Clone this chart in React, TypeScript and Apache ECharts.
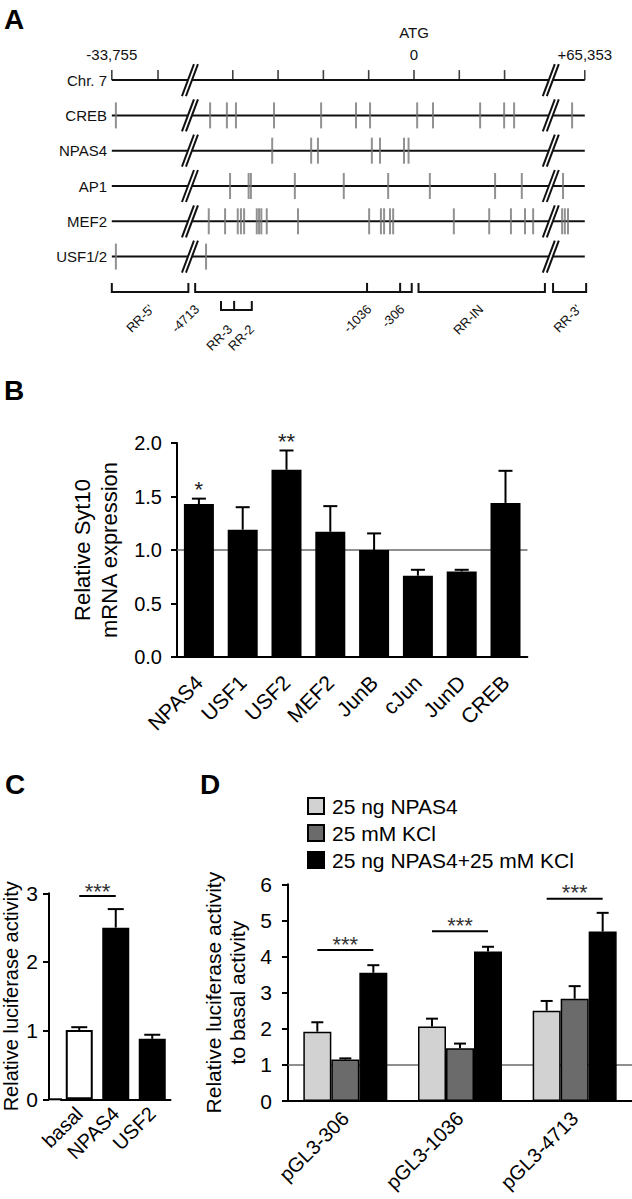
import React, { useEffect, useRef } from 'react';
import * as echarts from 'echarts';

const FONT = "'Liberation Sans', Arial, Helvetica, sans-serif";

// ---------------- Panel A (positions in kb relative to ATG; both ends compressed by axis breaks)
const rowNames = ['Chr. 7', 'CREB', 'NPAS4', 'AP1', 'MEF2', 'USF1/2', ''];
const chrTicks = [-6.67, -5.65, -4, -3, -2, -1, 0, 1, 2, 3.77];
const crebSites = [-6.58, -4.5, -4.13, -3.93, -3.09, -2.05, -1.28, -0.97, 0.07, 0.42, 1.46, 1.99, 2.21, 3.49];
const npas4Sites = [-3.13, -2.27, -2.12, -0.93, -0.75, -0.22, -0.12];
const ap1Sites = [-4.06, -3.65, -3.6, -2.63, -1.55, -0.57, 0.35, 1.79, 2.38, 3.29];
const mef2Sites = [-4.53, -4.17, -3.89, -3.82, -3.75, -3.47, -3.42, -3.37, -3.25, -2.56, -0.99, -0.73, -0.66, -0.53, -0.46, 0.88, 1.66, 2.14, 2.45, 2.63, 3.27, 3.33, 3.4];
const usfSites = [-6.58, -4.59];
const lineStart = -6.67;
const lineEnd = 3.77;
const breakAt = [-4.945, 3.02];
const coordLabels = ['-33,755', '0', '+65,353', 'ATG'];
const coordLabelX = [-6.67, 0, 3.77, 0];
const coordLabelDy = [-26, -26, -26, -48];
const bracketStart = [-6.67, -4.83, 0.1, 3.07, -4.26];
const bracketEnd = [-4.98, -0.05, 2.89, 3.8, -3.58];
const bracketLevel = [0, 0, 0, 0, 1];
const bracketInner = [[], [-1.036, -0.306], [], [], [-3.97]];
const regionLabels = ["RR-5'", '-4713', 'RR-3', 'RR-2', '-1036', '-306', 'RR-IN', "RR-3'"];
const regionLabelX = [-5.79, -4.79, -4.06, -3.58, -0.99, -0.26, 1.48, 3.64];
const regionLabelLevel = [0, 0, 1, 1, 0, 0, 0, 0];

// ---------------- Panel B
const bCats = ['NPAS4', 'USF1', 'USF2', 'MEF2', 'JunB', 'cJun', 'JunD', 'CREB'];
const bMean = [1.43, 1.19, 1.75, 1.17, 1.0, 0.76, 0.8, 1.44];
const bSem = [0.05, 0.21, 0.18, 0.24, 0.155, 0.055, 0.015, 0.3];
const bStarCat = [0, 2];
const bStars = ['*', '**'];

// ---------------- Panel C
const cCats = ['basal', 'NPAS4', 'USF2'];
const cMean = [1.01, 2.5, 0.88];
const cSem = [0.04, 0.27, 0.06];
const cSigFrom = [0];
const cSigTo = [1];
const cSigLevel = [2.96];

// ---------------- Panel D
const dCats = ['pGL3-306', 'pGL3-1036', 'pGL3-4713'];
const dNames = ['25 ng NPAS4', '25 mM KCl', '25 ng NPAS4+25 mM KCl'];
const dNpas4 = [1.92, 2.06, 2.5];
const dNpas4Sem = [0.26, 0.22, 0.27];
const dKcl = [1.15, 1.46, 2.83];
const dKclSem = [0.03, 0.13, 0.35];
const dBoth = [3.55, 4.14, 4.69];
const dBothSem = [0.21, 0.13, 0.52];
const dSigLevel = [4.18, 4.7, 5.6];

const D_BAR = 28;

function txtStyle(text: string, fontSize: number, align = 'center', vAlign = 'middle', color = '#000', weight = 'normal') {
  return {
    text, fontSize, fontFamily: FONT, fontWeight: weight, fill: color,
    align, verticalAlign: vAlign, textAlign: align, textVerticalAlign: vAlign,
  };
}

function errorBars(ai: number, means: number[], sems: number[], offset: number, cap: number) {
  return {
    type: 'custom', xAxisIndex: ai, yAxisIndex: ai, z: 4, silent: true,
    data: means.map((m, i) => [i, m, m + sems[i]]),
    renderItem: (_p: any, api: any) => {
      const base = api.coord([api.value(0), api.value(1)]);
      const top = api.coord([api.value(0), api.value(2)]);
      const x = base[0] + offset;
      const s = { stroke: '#000', lineWidth: 2 };
      return {
        type: 'group', children: [
          { type: 'line', shape: { x1: x, y1: base[1], x2: x, y2: top[1] }, style: s },
          { type: 'line', shape: { x1: x - cap, y1: top[1], x2: x + cap, y2: top[1] }, style: s },
        ],
      };
    },
  };
}

function refLine(ai: number, level: number) {
  return {
    type: 'custom', xAxisIndex: ai, yAxisIndex: ai, z: 1, silent: true,
    data: [[0, level]],
    renderItem: (p: any, api: any) => {
      const y = api.coord([0, api.value(1)])[1];
      const cs = p.coordSys;
      return { type: 'line', shape: { x1: cs.x, y1: y, x2: cs.x + cs.width, y2: y }, style: { stroke: '#6a6a6a', lineWidth: 1.5 } };
    },
  };
}

function sites(values: number[], row: number) {
  return values.map((v) => [v, row]);
}

const App: React.FC = () => {
  const ref = useRef<HTMLDivElement>(null);
  useEffect(() => {
    if (!ref.current) return;
    const chart = echarts.init(ref.current, undefined, { renderer: 'svg' });
    const allSites = [
      ...sites(crebSites, 1), ...sites(npas4Sites, 2), ...sites(ap1Sites, 3),
      ...sites(mef2Sites, 4), ...sites(usfSites, 5),
    ];
    const axisLineStyle = { show: true, lineStyle: { color: '#000', width: 2 } };
    const yTick = { show: true, length: 6, lineStyle: { color: '#000', width: 2 } };
    const option: any = {
      animation: false,
      backgroundColor: '#fff',
      textStyle: { fontFamily: FONT, color: '#000' },
      grid: [
        { left: 110, top: 62.45, width: 485.2, height: 247.1 },
        { left: 177, top: 443, width: 350.4, height: 214 },
        { left: 61, top: 893.3, width: 109.5, height: 206 },
        { left: 288, top: 884.3, width: 344, height: 216.7 },
      ],
      xAxis: [
        { gridIndex: 0, type: 'value', min: -6.71, max: 4, show: false },
        {
          gridIndex: 1, type: 'category', data: bCats, axisLine: axisLineStyle, axisTick: { show: false },
          axisLabel: { rotate: 45, fontSize: 21, color: '#000', margin: 22, interval: 0, fontFamily: FONT },
        },
        {
          gridIndex: 2, type: 'category', data: cCats, axisLine: axisLineStyle, axisTick: { show: false },
          axisLabel: { rotate: 45, fontSize: 20, color: '#000', margin: 11, interval: 0, fontFamily: FONT },
        },
        {
          gridIndex: 3, type: 'category', data: dCats, axisLine: axisLineStyle, axisTick: { show: false },
          axisLabel: { rotate: 45, fontSize: 20, color: '#000', margin: 14, interval: 0, fontFamily: FONT },
        },
      ],
      yAxis: [
        {
          gridIndex: 0, type: 'category', data: rowNames, inverse: true,
          axisLine: { show: false }, axisTick: { show: false }, splitLine: { show: false },
          axisLabel: { fontSize: 15, color: '#111', margin: 3, fontFamily: FONT },
        },
        {
          gridIndex: 1, type: 'value', min: 0, max: 2, interval: 0.5,
          axisLine: axisLineStyle, axisTick: yTick, splitLine: { show: false },
          axisLabel: { fontSize: 20, color: '#000', margin: 15, fontFamily: FONT, formatter: (v: number) => v.toFixed(1) },
          name: 'Relative Syt10\nmRNA expression', nameLocation: 'middle', nameRotate: 90, nameGap: 51,
          nameTextStyle: { fontSize: 22, lineHeight: 27, color: '#000', fontFamily: FONT },
        },
        {
          gridIndex: 2, type: 'value', min: 0, max: 3, interval: 1, offset: 12,
          axisLine: axisLineStyle, axisTick: yTick, splitLine: { show: false },
          axisLabel: { fontSize: 21, color: '#000', margin: 11, fontFamily: FONT },
          name: 'Relative luciferase activity', nameLocation: 'middle', nameRotate: 90, nameGap: 28,
          nameTextStyle: { fontSize: 20, color: '#000', fontFamily: FONT },
        },
        {
          gridIndex: 3, type: 'value', min: 0, max: 6, interval: 1,
          axisLine: axisLineStyle, axisTick: yTick, splitLine: { show: false },
          axisLabel: { fontSize: 21, color: '#000', margin: 16, fontFamily: FONT },
          name: 'Relative luciferase activity\nto basal activity', nameLocation: 'middle', nameRotate: 90, nameGap: 39,
          nameTextStyle: { fontSize: 21, lineHeight: 24, color: '#000', fontFamily: FONT },
        },
      ],
      legend: {
        data: dNames, orient: 'vertical', left: 302, top: 790, itemWidth: 16, itemHeight: 16, itemGap: 5,
        icon: 'rect', selectedMode: false,
        textStyle: { fontSize: 21, color: '#000', fontFamily: FONT, lineHeight: 22, padding: [0, 0, 0, 3] },
      },
      graphic: [
        { type: 'text', x: 4, y: 19, style: txtStyle('A', 28, 'left', 'middle', '#000', 'bold') },
        { type: 'text', x: 4, y: 390, style: txtStyle('B', 28, 'left', 'middle', '#000', 'bold') },
        { type: 'text', x: 5, y: 784, style: txtStyle('C', 28, 'left', 'middle', '#000', 'bold') },
        { type: 'text', x: 200, y: 784, style: txtStyle('D', 28, 'left', 'middle', '#000', 'bold') },
        { type: 'line', shape: { x1: 49, y1: 1099.3, x2: 62, y2: 1099.3 }, style: { stroke: '#000', lineWidth: 2 } },
      ],
      series: [
        // ---- Panel A
        {
          type: 'custom', xAxisIndex: 0, yAxisIndex: 0, z: 2, silent: true,
          data: rowNames.slice(0, 6).map((_, i) => [lineStart, i]),
          renderItem: (_p: any, api: any) => {
            const row = api.value(1);
            const p0 = api.coord([lineStart, row]);
            const p1 = api.coord([lineEnd, row]);
            const st = { stroke: '#111', lineWidth: 2 };
            const children: any[] = [{ type: 'line', shape: { x1: p0[0], y1: p0[1], x2: p1[0], y2: p1[1] }, style: st }];
            breakAt.forEach((b) => {
              const c = api.coord([b, row]);
              const cx = c[0], cy = c[1];
              children.push({ type: 'polygon', shape: { points: [[cx - 8, cy + 16], [cx + 4, cy - 16], [cx + 8, cy - 16], [cx - 4, cy + 16]] }, style: { fill: '#fff' } });
              children.push({ type: 'line', shape: { x1: cx - 8, y1: cy + 16, x2: cx + 4, y2: cy - 16 }, style: st });
              children.push({ type: 'line', shape: { x1: cx - 4, y1: cy + 16, x2: cx + 8, y2: cy - 16 }, style: st });
            });
            return { type: 'group', children };
          },
        },
        {
          type: 'scatter', xAxisIndex: 0, yAxisIndex: 0, z: 3, silent: true,
          symbol: 'rect', symbolSize: [1.6, 10], symbolOffset: [0, -5],
          itemStyle: { color: '#111' },
          data: chrTicks.map((v) => [v, 0]),
        },
        {
          type: 'scatter', xAxisIndex: 0, yAxisIndex: 0, z: 3, silent: true,
          symbol: 'rect', symbolSize: [2, 26],
          itemStyle: { color: '#767676' },
          data: allSites,
        },
        {
          type: 'custom', xAxisIndex: 0, yAxisIndex: 0, z: 3, silent: true,
          data: bracketStart.map((s) => [s, 6]),
          renderItem: (p: any, api: any) => {
            const i = p.dataIndex;
            const a = api.coord([bracketStart[i], 6]);
            const b = api.coord([bracketEnd[i], 6]);
            const bottom = a[1] + 18 * bracketLevel[i];
            const top = bottom - 9;
            const st = { stroke: '#111', lineWidth: 2, fill: null };
            const children: any[] = [{
              type: 'polyline', shape: { points: [[a[0], top], [a[0], bottom], [b[0], bottom], [b[0], top]] }, style: st,
            }];
            bracketInner[i].forEach((t) => {
              const c = api.coord([t, 6]);
              children.push({ type: 'line', shape: { x1: c[0], y1: bottom, x2: c[0], y2: top }, style: st });
            });
            return { type: 'group', children };
          },
        },
        {
          type: 'custom', xAxisIndex: 0, yAxisIndex: 0, z: 3, silent: true,
          data: regionLabelX.map((x) => [x, 6]),
          renderItem: (p: any, api: any) => {
            const i = p.dataIndex;
            const c = api.coord([regionLabelX[i], 6]);
            return {
              type: 'text', x: c[0], y: c[1] + (regionLabelLevel[i] ? 35 : 15), rotation: Math.PI / 4,
              style: txtStyle(regionLabels[i], 13, 'right', 'middle', '#111'),
            };
          },
        },
        {
          type: 'custom', xAxisIndex: 0, yAxisIndex: 0, z: 3, silent: true,
          data: coordLabelX.map((x) => [x, 0]),
          renderItem: (p: any, api: any) => {
            const i = p.dataIndex;
            const c = api.coord([coordLabelX[i], 0]);
            return { type: 'text', x: c[0], y: c[1] + coordLabelDy[i], style: txtStyle(coordLabels[i], 15, 'center', 'middle', '#111') };
          },
        },
        // ---- Panel B
        refLine(1, 1),
        {
          type: 'bar', xAxisIndex: 1, yAxisIndex: 1, z: 2, barWidth: 30, silent: true,
          itemStyle: { color: '#000' }, data: bMean,
        },
        errorBars(1, bMean, bSem, 0, 7),
        {
          type: 'custom', xAxisIndex: 1, yAxisIndex: 1, z: 5, silent: true,
          data: bStarCat.map((c) => [c, bMean[c] + bSem[c]]),
          renderItem: (p: any, api: any) => {
            const c = api.coord([api.value(0), api.value(1)]);
            return { type: 'text', x: c[0], y: c[1] - 9, style: txtStyle(bStars[p.dataIndex], 22, 'center', 'middle', '#222') };
          },
        },
        // ---- Panel C
        {
          type: 'bar', xAxisIndex: 2, yAxisIndex: 2, z: 2, barWidth: 27, silent: true,
          data: cMean.map((v, i) => ({
            value: v,
            itemStyle: i === 0 ? { color: '#fff', borderColor: '#000', borderWidth: 2 } : { color: '#000' },
          })),
        },
        errorBars(2, cMean, cSem, 0, 8),
        {
          type: 'custom', xAxisIndex: 2, yAxisIndex: 2, z: 5, silent: true,
          data: cSigFrom.map((f, i) => [f, cSigLevel[i]]),
          renderItem: (p: any, api: any) => {
            const i = p.dataIndex;
            const a = api.coord([cSigFrom[i], cSigLevel[i]]);
            const b = api.coord([cSigTo[i], cSigLevel[i]]);
            return {
              type: 'group', children: [
                { type: 'line', shape: { x1: a[0], y1: a[1], x2: b[0], y2: b[1] }, style: { stroke: '#000', lineWidth: 2 } },
                { type: 'text', x: (a[0] + b[0]) / 2, y: a[1] - 5, style: txtStyle('***', 22, 'center', 'middle', '#333') },
              ],
            };
          },
        },
        // ---- Panel D
        refLine(3, 1),
        {
          name: dNames[0], type: 'bar', xAxisIndex: 3, yAxisIndex: 3, z: 2, barWidth: D_BAR, barGap: '0%', silent: true,
          itemStyle: { color: '#d2d2d2', borderColor: '#000', borderWidth: 1.5 }, data: dNpas4,
        },
        {
          name: dNames[1], type: 'bar', xAxisIndex: 3, yAxisIndex: 3, z: 2, barWidth: D_BAR, barGap: '0%', silent: true,
          itemStyle: { color: '#6b6b6b', borderColor: '#000', borderWidth: 1.5 }, data: dKcl,
        },
        {
          name: dNames[2], type: 'bar', xAxisIndex: 3, yAxisIndex: 3, z: 2, barWidth: D_BAR, barGap: '0%', silent: true,
          itemStyle: { color: '#000', borderColor: '#000', borderWidth: 1.5 }, data: dBoth,
        },
        errorBars(3, dNpas4, dNpas4Sem, -D_BAR, 6),
        errorBars(3, dKcl, dKclSem, 0, 6),
        errorBars(3, dBoth, dBothSem, D_BAR, 6),
        {
          type: 'custom', xAxisIndex: 3, yAxisIndex: 3, z: 5, silent: true,
          data: dSigLevel.map((l, i) => [i, l]),
          renderItem: (_p: any, api: any) => {
            const c = api.coord([api.value(0), api.value(1)]);
            return {
              type: 'group', children: [
                { type: 'line', shape: { x1: c[0] - D_BAR, y1: c[1], x2: c[0] + D_BAR, y2: c[1] }, style: { stroke: '#000', lineWidth: 2 } },
                { type: 'text', x: c[0], y: c[1] - 6, style: txtStyle('***', 22, 'center', 'middle', '#333') },
              ],
            };
          },
        },
      ],
    };
    chart.setOption(option);
    return () => chart.dispose();
  }, []);
  return (
    <div
      ref={ref}
      style={{ position: 'absolute', left: 0, top: 0, width: 632, height: 1199, background: '#fff' }}
    />
  );
};

export default App;
